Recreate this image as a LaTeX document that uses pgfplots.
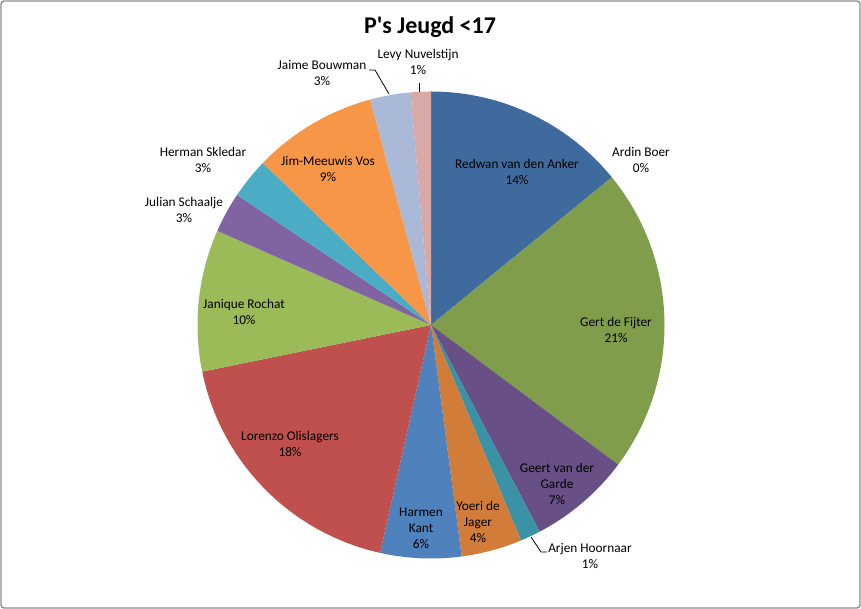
\documentclass[border=0pt]{standalone}
\usepackage{pgfplots}
\pgfplotsset{compat=1.18}
\usepackage{fontspec}
\setmainfont{Carlito}
\definecolor{cRedwan}{HTML}{3E6A9E}
\definecolor{cArdin}{HTML}{9E413E}
\definecolor{cGert}{HTML}{7F9D4A}
\definecolor{cGeert}{HTML}{684F86}
\definecolor{cArjen}{HTML}{3A92A6}
\definecolor{cYoeri}{HTML}{D27C39}
\definecolor{cHarmen}{HTML}{4F81BD}
\definecolor{cLorenzo}{HTML}{C0504D}
\definecolor{cJanique}{HTML}{9BBB59}
\definecolor{cJulian}{HTML}{8064A2}
\definecolor{cHerman}{HTML}{4BACC6}
\definecolor{cJim}{HTML}{F79646}
\definecolor{cJaime}{HTML}{AAB9D7}
\definecolor{cLevy}{HTML}{D9A8A7}
\newcommand\labelfont{\fontsize{13.3}{16}\selectfont}
\newcommand\cum{0}
\begin{document}
\begin{tikzpicture}
\begin{axis}[
  x=1pt, y=1pt, scale only axis,
  xmin=0, xmax=861, ymin=0, ymax=609,
  hide axis, clip=false,
]
\path (axis cs:0,0) rectangle (axis cs:861,609);
% share of each player (percent), clockwise from 12 o'clock
\foreach \v/\c in {14.1/cRedwan, 0/cArdin, 21.1/cGert, 7.1/cGeert, 1.4/cArjen,
                   4.2/cYoeri, 5.6/cHarmen, 18.3/cLorenzo, 9.8/cJanique,
                   2.8/cJulian, 2.8/cHerman, 8.6/cJim, 2.8/cJaime, 1.4/cLevy}{
  \pgfmathsetmacro\a{90-3.6*\cum}
  \pgfmathsetmacro\b{90-3.6*(\cum+\v)}
  \ifdim\v pt>0pt
    \edef\doslice{\noexpand\addplot[fill=\c, draw=none, domain=\b:\a, samples=80]
      ({431+233.5*cos(x)},{284+233.5*sin(x)}) -- (axis cs:431,284) -- cycle;}
    \doslice
  \fi
  \pgfmathsetmacro\tmp{\cum+\v}\xdef\cum{\tmp}
}
% leader lines
\draw[black, line width=0.8pt] (axis cs:369,539) -- (axis cs:375,539) -- (axis cs:389,515);
\draw[black, line width=0.8pt] (axis cs:419,526) -- (axis cs:419,517);
\draw[black, line width=0.8pt] (axis cs:531,72) -- (axis cs:541,57) -- (axis cs:547,57);
% labels
\begin{scope}[every node/.style={align=center, font=\labelfont, inner sep=0pt, text=black}]
\node at (axis cs:517,437) {Redwan van den Anker\\14\%};
\node at (axis cs:641,449) {Ardin Boer\\0\%};
\node at (axis cs:616,279) {Gert de Fijter\\21\%};
\node at (axis cs:557,125) {Geert van der\\Garde\\7\%};
\node at (axis cs:590,53) {Arjen Hoornaar\\1\%};
\node at (axis cs:478,87) {Yoeri de\\Jager\\4\%};
\node at (axis cs:421,81) {Harmen\\Kant\\6\%};
\node at (axis cs:290,165) {Lorenzo Olislagers\\18\%};
\node at (axis cs:244,297) {Janique Rochat\\10\%};
\node at (axis cs:184,399) {Julian Schaalje\\3\%};
\node at (axis cs:203,449) {Herman Skledar\\3\%};
\node at (axis cs:328,440) {Jim-Meeuwis Vos\\9\%};
\node at (axis cs:322,536) {Jaime Bouwman\\3\%};
\node at (axis cs:418,547) {Levy Nuvelstijn\\1\%};
\end{scope}
\node[font=\fontsize{24}{29}\selectfont\bfseries, inner sep=0pt] at (axis cs:430,582) {P\textquotesingle s Jeugd <17};
% chart frame
\draw[color=black!45, line width=1.4pt, rounded corners=3pt] (axis cs:1,1) rectangle (axis cs:860,608);
\end{axis}
\end{tikzpicture}
\end{document}
